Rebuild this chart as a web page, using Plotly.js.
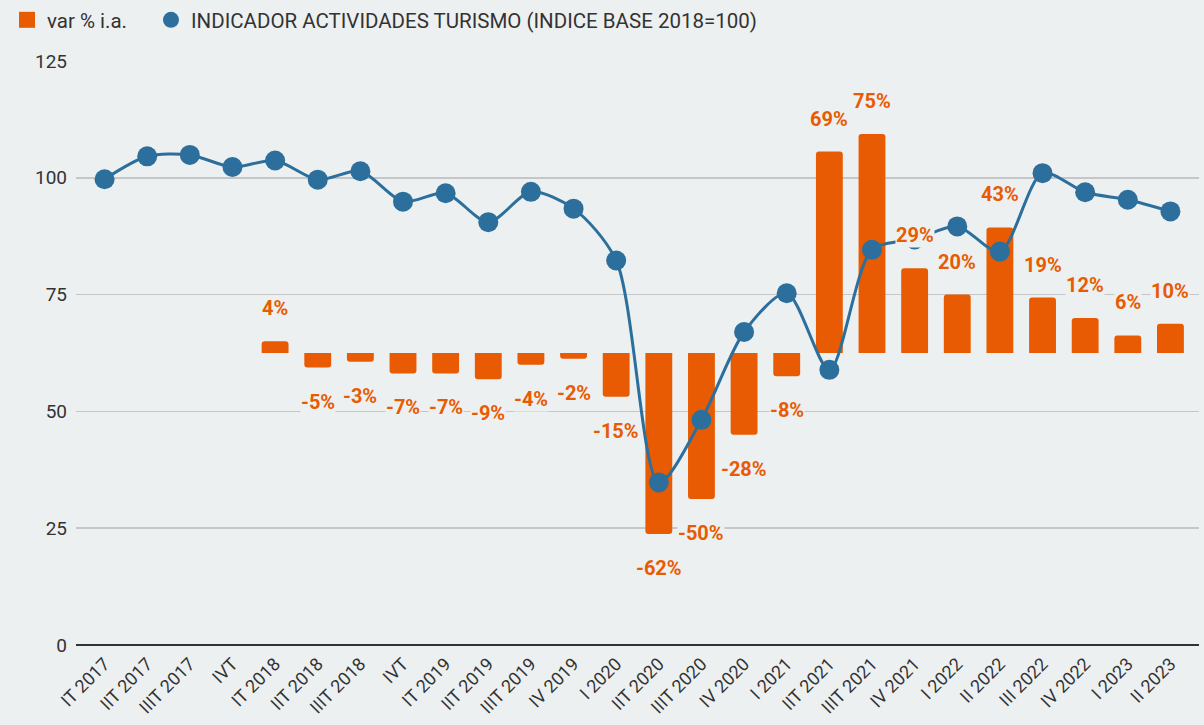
<!DOCTYPE html>
<html>
<head>
<meta charset="utf-8">
<script src="https://cdn.plot.ly/plotly-3.0.1.min.js"></script>
<style>
html,body{margin:0;padding:0;background:#edf0f1;}
#chart{width:1204px;height:725px;}
</style>
</head>
<body>
<div id="chart"></div>
<script>
const categories = ["IT 2017","IIT 2017","IIIT 2017","IVT","IT 2018","IIT 2018","IIIT 2018","IVT",
  "IT 2019","IIT 2019","IIIT 2019","IV 2019","I 2020","IIT 2020","IIIT 2020","IV 2020",
  "I 2021","IIT 2021","IIIT 2021","IV 2021","I 2022","II 2022","III 2022","IV 2022","I 2023","II 2023"];
const varPct = [null,null,null,null,4,-5,-3,-7,-7,-9,-4,-2,-15,-62,-50,-28,-8,69,75,29,20,43,19,12,6,10];
const indicador = [99.7,104.6,104.9,102.3,103.7,99.6,101.4,94.9,96.7,90.5,97.0,93.4,82.3,34.8,48.2,67.0,
  75.3,58.9,84.6,86.8,89.6,84.2,101.0,96.9,95.3,92.8];
const yTicks = [0,25,50,75,100,125];

const ORANGE = "#e85b02";
const BLUE = "#2c6f9c";
const BG = "#edf0f1";
const xIdx = categories.map((_, i) => i);

const traces = [
  {
    type: "bar", name: "var % i.a.", x: xIdx, y: varPct, yaxis: "y",
    marker: {color: ORANGE, cornerradius: 3}, width: 0.63,
    hoverinfo: "y", showlegend: false
  },
  {
    type: "scatter", mode: "lines+markers", name: "INDICADOR ACTIVIDADES TURISMO (INDICE BASE 2018=100)",
    x: xIdx, y: indicador, yaxis: "y2",
    line: {color: BLUE, width: 3, shape: "spline", smoothing: 0.8},
    marker: {color: BLUE, size: 20}, showlegend: false
  },
  {
    type: "scatter", mode: "markers", name: "var % i.a.", x: [null], y: [null], yaxis: "y2",
    marker: {color: ORANGE, symbol: "square", size: 18}, showlegend: true, legend: "legend"
  },
  {
    type: "scatter", mode: "markers", name: "INDICADOR ACTIVIDADES TURISMO (INDICE BASE 2018=100)", x: [null], y: [null], yaxis: "y2",
    marker: {color: BLUE, symbol: "circle", size: 20}, showlegend: true, legend: "legend2"
  }
];

const annotations = [];
varPct.forEach((v, i) => {
  if (v === null) return;
  annotations.push({
    x: i, y: v, xref: "x", yref: "y",
    text: v + "%", showarrow: false,
    yshift: v >= 0 ? 33 : -34,
    font: {family: "Roboto, sans-serif", size: 20, color: ORANGE, weight: 700},
    bgcolor: BG, borderpad: 0
  });
});

const legendBase = {
  orientation: "h", xref: "container", yref: "container", y: 1.0,
  xanchor: "left", yanchor: "top",
  font: {size: 20.5, color: "#333"}, bgcolor: "rgba(0,0,0,0)", itemclick: false
};

const layout = {
  width: 1204, height: 725,
  paper_bgcolor: BG, plot_bgcolor: BG,
  margin: {l: 76, r: 5, t: 61, b: 80},
  font: {family: "Roboto, sans-serif", color: "#333"},
  showlegend: true,
  legend: Object.assign({}, legendBase, {x: 0.0058}),
  legend2: Object.assign({}, legendBase, {x: 0.1254}),
  xaxis: {
    range: [-0.67, 25.67], tickvals: xIdx, ticktext: categories,
    tickangle: -45, tickfont: {size: 18, color: "#333"},
    showgrid: false, zeroline: false, showline: false, ticks: "",
    ticklabelstandoff: 4
  },
  yaxis: {
    range: [-100, 100], visible: false, showgrid: false, zeroline: false, fixedrange: true
  },
  yaxis2: {
    range: [0, 125], overlaying: "y", side: "left", tickvals: yTicks,
    showgrid: true, gridcolor: "#c4c6c7", gridwidth: 1.5,
    zeroline: true, zerolinecolor: "#333", zerolinewidth: 2,
    tickfont: {size: 19, color: "#333"}, ticks: "", ticklabelstandoff: 8, fixedrange: true
  },
  annotations: annotations,
  bargap: 0.37
};

Plotly.newPlot("chart", traces, layout, {displayModeBar: false, staticPlot: true});
</script>
</body>
</html>
